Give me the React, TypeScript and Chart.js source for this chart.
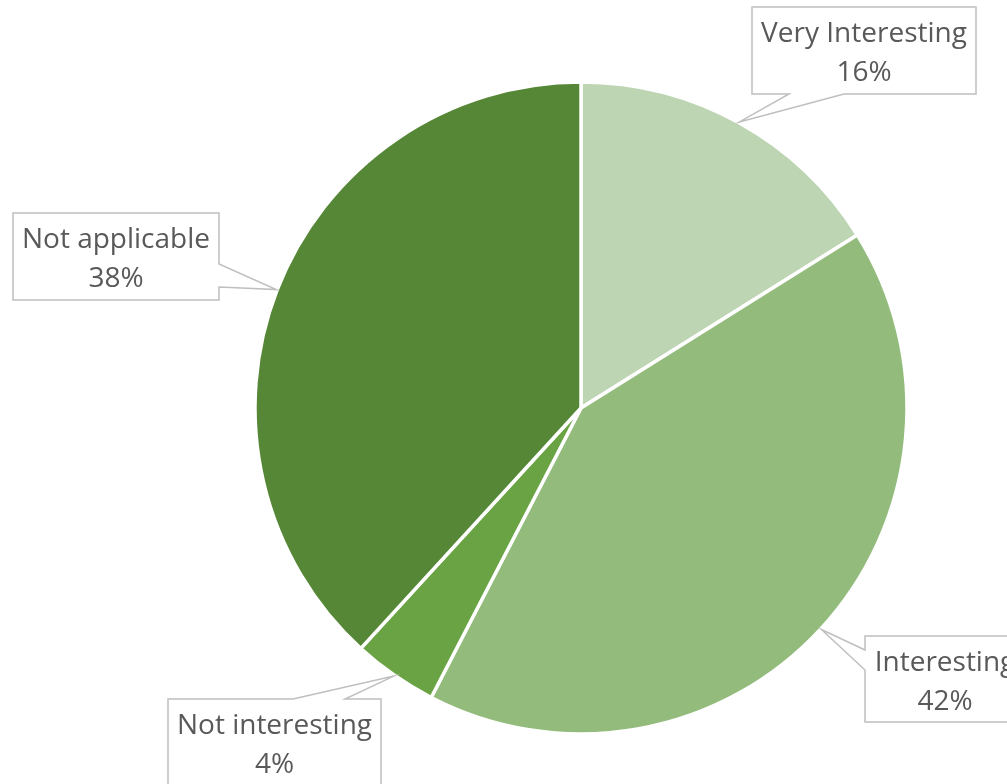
import React, { useEffect, useRef } from "react";
import { Chart, registerables } from "chart.js";

Chart.register(...registerables);

const categories = ["Very Interesting", "Interesting", "Not interesting", "Not applicable"];
const values = [16.1, 41.5, 4.2, 38.2];
const percentLabels = ["16%", "42%", "4%", "38%"];
const colors = ["#BDD5B3", "#93BB7C", "#69A343", "#568737"];

// callout box layout (label positions)
const callouts = [
  { left: 752, top: 7, w: 224, h: 87, side: "bottom", b1: 789, b2: 844 },
  { left: 865, top: 636, w: 160, h: 86, side: "left", b1: 650, b2: 670 },
  { left: 168, top: 699, w: 213, h: 100, side: "top", b1: 293, b2: 345 },
  { left: 13, top: 213, w: 206, h: 87, side: "right", b1: 264, b2: 287 },
];

const calloutPlugin = {
  id: "callouts",
  afterDraw(chart: any) {
    const ctx = chart.ctx;
    const meta = chart.getDatasetMeta(0);
    meta.data.forEach((arc: any, i: number) => {
      const c = callouts[i];
      if (!c) return;
      const { x, y, startAngle, endAngle, outerRadius } = arc.getProps(
        ["x", "y", "startAngle", "endAngle", "outerRadius"],
        true
      );
      const mid = (startAngle + endAngle) / 2;
      const tx = x + Math.cos(mid) * (outerRadius + 1);
      const ty = y + Math.sin(mid) * (outerRadius + 1);
      const L = c.left, T = c.top, R = c.left + c.w, B = c.top + c.h;
      ctx.save();
      ctx.beginPath();
      ctx.moveTo(L, T);
      if (c.side === "top") {
        ctx.lineTo(c.b1, T);
        ctx.lineTo(tx, ty);
        ctx.lineTo(c.b2, T);
      }
      ctx.lineTo(R, T);
      if (c.side === "right") {
        ctx.lineTo(R, c.b1);
        ctx.lineTo(tx, ty);
        ctx.lineTo(R, c.b2);
      }
      ctx.lineTo(R, B);
      if (c.side === "bottom") {
        ctx.lineTo(c.b2, B);
        ctx.lineTo(tx, ty);
        ctx.lineTo(c.b1, B);
      }
      ctx.lineTo(L, B);
      if (c.side === "left") {
        ctx.lineTo(L, c.b2);
        ctx.lineTo(tx, ty);
        ctx.lineTo(L, c.b1);
      }
      ctx.closePath();
      ctx.fillStyle = "#ffffff";
      ctx.fill();
      ctx.strokeStyle = "#BFBFBF";
      ctx.lineWidth = 1.5;
      ctx.lineJoin = "miter";
      ctx.stroke();
      ctx.fillStyle = "#595959";
      ctx.font = '28px "Open Sans"';
      ctx.textAlign = "center";
      ctx.textBaseline = "middle";
      const cx = L + c.w / 2;
      ctx.fillText(categories[i], cx, T + 27);
      ctx.fillText(percentLabels[i], cx, T + 66);
      ctx.restore();
    });
  },
};

export default function App() {
  const ref = useRef<HTMLCanvasElement>(null);
  useEffect(() => {
    if (!ref.current) return;
    const chart = new Chart(ref.current, {
      type: "pie",
      data: {
        labels: categories,
        datasets: [
          {
            data: values,
            backgroundColor: colors,
            borderColor: "#ffffff",
            borderWidth: 3.5,
          },
        ],
      },
      options: {
        responsive: false,
        animation: false,
        layout: { padding: { left: 253.25, right: 98.25, top: 80.25, bottom: 48.25 } },
        plugins: {
          legend: { display: false },
          tooltip: { enabled: false },
        },
      },
      plugins: [calloutPlugin],
    });
    return () => chart.destroy();
  }, []);
  return (
    <div style={{ position: "fixed", left: 0, top: 0, width: 1007, height: 784, background: "#fff" }}>
      <canvas ref={ref} width={1007} height={784} style={{ display: "block" }} />
    </div>
  );
}
